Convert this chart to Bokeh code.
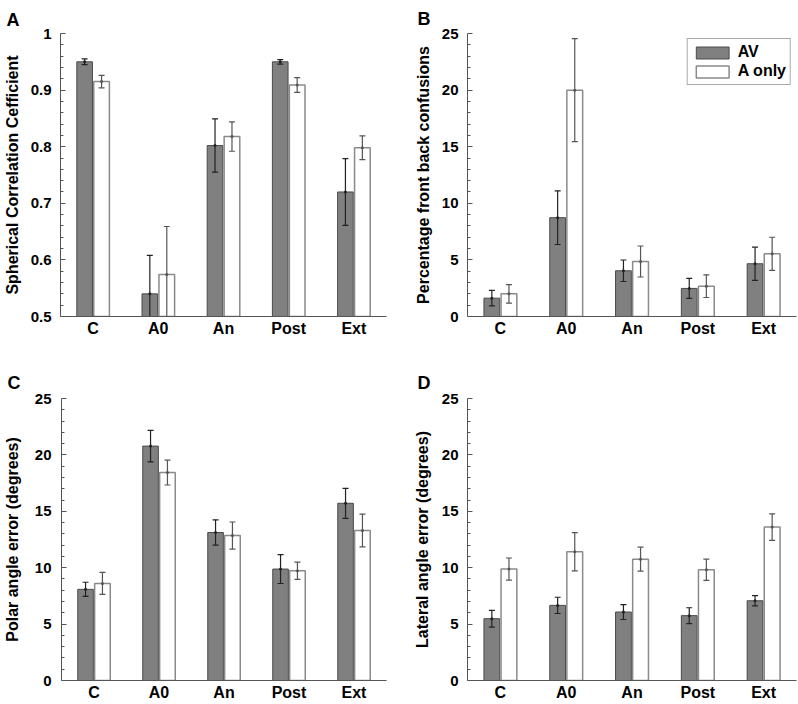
from bokeh.plotting import figure
from bokeh.layouts import column, row
from bokeh.models import Range1d, FixedTicker, Legend, LegendItem, ColumnDataSource
from bokeh.embed import file_html
from bokeh.resources import INLINE

CATEGORIES = ["C", "A0", "An", "Post", "Ext"]
SERIES = ["AV", "A only"]

CORR_AV = [0.950, 0.540, 0.802, 0.950, 0.720]
CORR_AV_ERR = [0.005, 0.068, 0.047, 0.004, 0.059]
CORR_AONLY = [0.915, 0.574, 0.818, 0.909, 0.798]
CORR_AONLY_ERR = [0.011, 0.085, 0.026, 0.013, 0.021]

FB_AV = [1.62, 8.73, 4.04, 2.48, 4.66]
FB_AV_ERR = [0.68, 2.37, 0.95, 0.88, 1.46]
FB_AONLY = [2.00, 19.99, 4.86, 2.68, 5.54]
FB_AONLY_ERR = [0.81, 4.55, 1.37, 1.00, 1.46]

POLAR_AV = [8.08, 20.78, 13.12, 9.88, 15.71]
POLAR_AV_ERR = [0.63, 1.40, 1.12, 1.28, 1.33]
POLAR_AONLY = [8.61, 18.43, 12.85, 9.73, 13.30]
POLAR_AONLY_ERR = [0.97, 1.10, 1.20, 0.77, 1.45]

LAT_AV = [5.48, 6.66, 6.07, 5.75, 7.07]
LAT_AV_ERR = [0.74, 0.72, 0.66, 0.70, 0.46]
LAT_AONLY = [9.88, 11.41, 10.76, 9.82, 13.60]
LAT_AONLY_ERR = [0.98, 1.70, 1.06, 0.94, 1.17]

Y_TICKS_CORR = [0.5, 0.6, 0.7, 0.8, 0.9, 1.0]
Y_TICK_LABELS_CORR = ["0.5", "0.6", "0.7", "0.8", "0.9", "1"]
Y_TICKS_DEG = [0, 5, 10, 15, 20, 25]
Y_TICK_LABELS_DEG = ["0", "5", "10", "15", "20", "25"]

FONT = "Liberation Sans"
AXIS_COLOR = "#555555"
BAR_W = 0.24
OFFSET = 0.13


def make_panel(letter, ylabel, av, av_err, ao, ao_err, ticks, tick_labels,
               width, height, left, right, top, bottom, title_off, title_standoff,
               tick_standoff, label_standoff, legend=False):
    ymin, ymax = ticks[0], ticks[-1]
    p = figure(width=width, height=height, output_backend="svg", toolbar_location=None,
               x_range=Range1d(0.5, 5.5), y_range=Range1d(ymin, ymax),
               min_border_left=left, min_border_right=right,
               min_border_top=top, min_border_bottom=bottom)
    p.outline_line_color = None
    p.xgrid.visible = False
    p.ygrid.visible = False
    p.background_fill_color = "white"
    p.border_fill_color = "white"

    p.title.text = letter
    p.title.align = "left"
    p.title.offset = title_off
    p.title.standoff = title_standoff
    p.title.text_font = FONT
    p.title.text_font_size = "18px"
    p.title.text_font_style = "bold"
    p.title.text_color = "black"

    xs = [i + 1 for i in range(len(CATEGORIES))]
    step = ticks[1] - ticks[0]
    minor = [t + k * step / 5 for t in ticks[:-1] for k in range(1, 5)]

    # x axis
    p.xaxis.ticker = FixedTicker(ticks=xs)
    p.xaxis.major_label_overrides = {x: c for x, c in zip(xs, CATEGORIES)}
    p.xaxis.major_tick_in = 0
    p.xaxis.major_tick_out = 0
    p.xaxis.minor_tick_in = 0
    p.xaxis.minor_tick_out = 0
    p.xaxis.major_label_standoff = 3
    p.xaxis.major_label_text_font = FONT
    p.xaxis.major_label_text_font_size = "16px"
    p.xaxis.major_label_text_font_style = "bold"
    p.xaxis.major_label_text_color = "black"
    p.xaxis.axis_line_color = AXIS_COLOR

    # y axis
    p.yaxis.ticker = FixedTicker(ticks=ticks, minor_ticks=minor)
    p.yaxis.major_label_overrides = {t: s for t, s in zip(ticks, tick_labels)}
    p.yaxis.major_tick_in = 5
    p.yaxis.major_tick_out = 0
    p.yaxis.minor_tick_in = 3
    p.yaxis.minor_tick_out = 0
    p.yaxis.major_tick_line_color = AXIS_COLOR
    p.yaxis.minor_tick_line_color = AXIS_COLOR
    p.yaxis.axis_line_color = AXIS_COLOR
    p.yaxis.major_label_standoff = tick_standoff
    p.yaxis.major_label_text_font = FONT
    p.yaxis.major_label_text_font_size = "15px"
    p.yaxis.major_label_text_font_style = "bold"
    p.yaxis.major_label_text_color = "black"
    p.yaxis.axis_label = ylabel
    p.yaxis.axis_label_standoff = label_standoff
    p.yaxis.axis_label_text_font = FONT
    p.yaxis.axis_label_text_font_size = "16px"
    p.yaxis.axis_label_text_font_style = "bold"
    p.yaxis.axis_label_text_color = "black"

    renderers = []
    specs = [
        (av, av_err, -OFFSET, "#808080", "#4a4a4a", "#222222", 1.0),
        (ao, ao_err, OFFSET, "white", "#8a8a8a", "#555555", 1.5),
    ]
    for vals, errs, off, fill, line, ecol, lw in specs:
        src = ColumnDataSource(dict(
            x=[x + off for x in xs],
            top=vals,
            lo=[v - e for v, e in zip(vals, errs)],
            hi=[v + e for v, e in zip(vals, errs)],
        ))
        r = p.vbar(x="x", top="top", bottom=ymin, width=BAR_W, source=src,
                   fill_color=fill, line_color=line, line_width=lw)
        renderers.append(r)
        p.segment(x0="x", y0="lo", x1="x", y1="hi", source=src,
                  line_color=ecol, line_width=1.2)
        p.scatter(x="x", y="hi", source=src, marker="dash", size=6,
                  line_color=ecol, line_width=1.2)
        p.scatter(x="x", y="lo", source=src, marker="dash", size=6,
                  line_color=ecol, line_width=1.2)
        p.scatter(x="x", y="top", source=src, marker="circle", size=3,
                  fill_color=ecol, line_color=None)

    if legend:
        lg = Legend(items=[LegendItem(label=SERIES[0], renderers=[renderers[0]]),
                           LegendItem(label=SERIES[1], renderers=[renderers[1]])],
                    location="top_right")
        lg.margin = 5
        lg.padding = 4
        lg.spacing = 1
        lg.glyph_width = 41
        lg.glyph_height = 15
        lg.label_height = 15
        lg.label_standoff = 5
        lg.label_text_font = FONT
        lg.label_text_font_size = "16px"
        lg.label_text_font_style = "bold"
        lg.label_text_color = "black"
        lg.border_line_color = "#555555"
        lg.border_line_width = 1
        lg.background_fill_color = "white"
        lg.background_fill_alpha = 1.0
        p.add_layout(lg)
    return p


pA = make_panel("A", "Spherical Correlation Cefficient", CORR_AV, CORR_AV_ERR,
                CORR_AONLY, CORR_AONLY_ERR, Y_TICKS_CORR, Y_TICK_LABELS_CORR,
                400, 340, 57, 14, 33, 24, -54, 8, 9, 7)
pB = make_panel("B", "Percentage front back confusions", FB_AV, FB_AV_ERR,
                FB_AONLY, FB_AONLY_ERR, Y_TICKS_DEG, Y_TICK_LABELS_DEG,
                397, 340, 67, 1, 33, 24, -50, 9, 9, 7, legend=True)
pC = make_panel("C", "Polar angle error (degrees)", POLAR_AV, POLAR_AV_ERR,
                POLAR_AONLY, POLAR_AONLY_ERR, Y_TICKS_DEG, Y_TICK_LABELS_DEG,
                400, 363, 57, 14, 58, 22, -54, 11, 10, 11)
pD = make_panel("D", "Lateral angle error (degrees)", LAT_AV, LAT_AV_ERR,
                LAT_AONLY, LAT_AONLY_ERR, Y_TICKS_DEG, Y_TICK_LABELS_DEG,
                397, 363, 67, 1, 58, 22, -50, 11, 9, 8)

p = column(row(pA, pB), row(pC, pD))
open("out.html", "w").write(file_html(p, INLINE))
